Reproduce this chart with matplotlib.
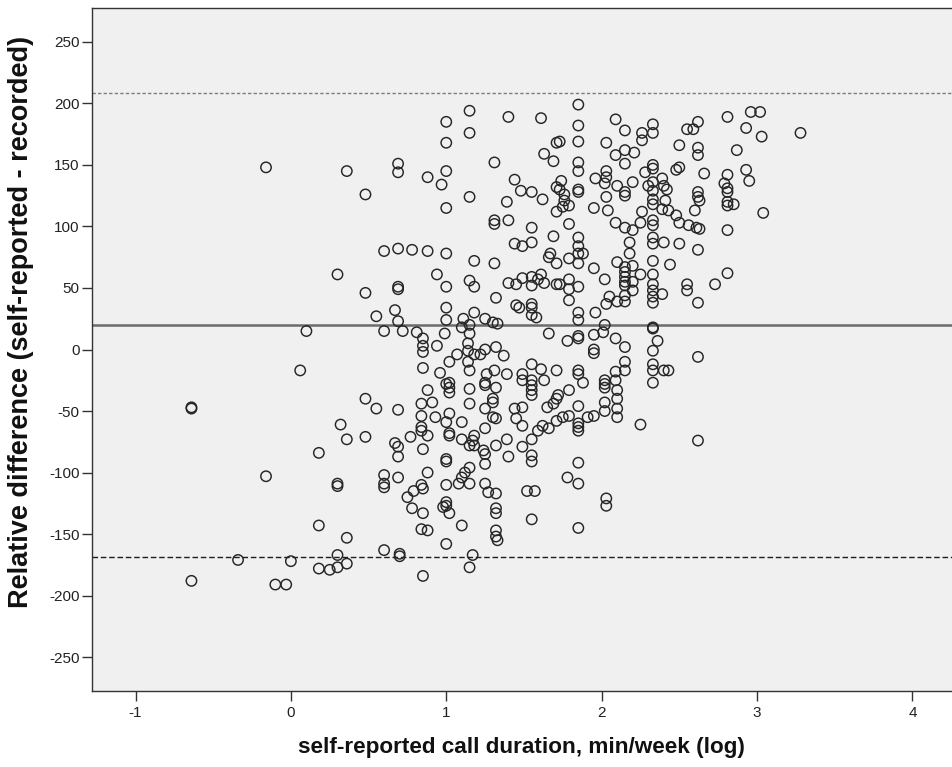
import matplotlib
matplotlib.use("Agg")
import matplotlib.pyplot as plt

plt.rcParams["font.family"] = ["Liberation Sans", "DejaVu Sans"]

# Log10 of self-reported weekly call minutes, one entry per participant
log_minutes = [
    -0.16, 0.36, 0.48, 0.69, 0.69, 0.60, 0.69, 0.30, 0.48, 0.69, 0.69, 0.55, 0.67, 0.69, 0.10, 0.60,
    0.06, 0.48, 0.55, 0.69, -0.64, -0.64, 0.32, 0.36, 0.48, 0.67, 0.69, 0.69, 0.18, -0.16, 0.30, 0.30,
    0.60, 0.60, 0.60, 0.69, 0.18, 0.36, 0.60, 0.70, 0.70,
    -0.64, -0.34, -0.10, -0.03, 0.00, 0.18, 0.25, 0.30, 0.30, 0.36, 0.85, 1.00, 1.33, 1.17, 1.15,
    1.15, 1.00, 1.15, 1.40, 1.61, 1.00, 1.71, 1.63, 1.69, 1.31,
    0.88, 1.00, 0.97, 1.44, 1.48, 1.55, 1.62, 1.71, 1.15, 1.39,
    1.00, 1.71, 1.31, 1.31, 1.40, 1.55, 1.69, 1.44, 1.49, 1.55,
    1.67, 1.66, 1.71, 0.78, 0.88, 1.00, 1.18, 1.31, 0.94, 1.15,
    1.18, 1.00, 1.40, 1.45, 1.49, 1.55, 1.55, 1.59, 1.61, 1.63,
    1.71, 1.32, 1.00, 1.45, 1.47, 1.55, 1.55, 1.55, 1.58, 1.00,
    1.11, 1.18, 1.25, 1.30, 1.33,
    0.72, 0.81, 0.85, 0.85, 0.85, 0.85, 0.94, 0.99, 1.10, 1.15,
    1.15, 1.14, 1.14, 1.18, 1.14, 1.15, 1.07, 1.02, 0.96, 1.25,
    1.32, 1.37, 1.31, 1.26, 1.25, 1.25, 1.32, 1.39, 1.55, 1.61,
    1.71, 1.49, 1.49, 1.55, 1.55, 1.55, 1.55, 1.63, 1.66, 1.02,
    1.02, 1.02, 1.00, 0.88, 0.91, 0.84, 0.84, 0.93, 0.84, 0.84,
    0.77, 0.88, 1.02, 1.00, 1.02, 1.02, 1.10, 1.10, 1.15, 1.18,
    1.18, 1.25, 1.25, 1.30, 1.30, 1.32, 1.30, 0.85, 0.88, 0.84,
    0.85, 0.79, 0.75, 0.78, 0.85, 0.84, 0.88, 1.00, 1.00, 1.00,
    1.00, 1.00, 1.02, 1.10, 1.12, 1.15, 1.15, 1.08, 1.25, 1.27,
    1.32, 1.32, 1.32, 1.25, 1.25, 1.24, 1.32, 1.40, 1.39, 1.49,
    1.55, 1.55, 1.55, 1.59, 1.62, 1.66, 1.71, 1.71, 1.65, 1.69,
    1.45, 1.49, 1.44, 1.49, 1.15, 1.15, 1.17, 1.52, 1.57, 1.55,
    1.10, 1.32, 1.32, 0.98, 1.22,
    1.85, 1.85, 1.85, 1.85, 1.85, 1.85, 1.85, 2.09, 2.15, 2.26,
    2.26, 2.33, 2.33, 2.55, 2.59, 2.62, 2.50, 2.62, 2.62, 1.73,
    2.03, 2.15, 2.21, 2.09, 2.15, 2.33, 2.33, 2.28, 2.48, 2.50,
    2.03, 2.03, 1.96, 2.02, 2.10, 2.20, 2.30, 2.33, 2.39, 2.40,
    2.42, 2.33, 2.15, 2.15, 2.03, 1.74, 1.73, 1.76, 1.76, 1.75,
    1.79, 1.95, 2.04, 2.09, 2.15, 2.20, 2.26, 2.25, 2.33, 2.33,
    2.33, 2.33, 2.41, 2.39, 2.43, 2.48, 2.50, 2.56, 2.60, 2.61,
    2.62, 2.62, 1.79, 1.85, 1.85, 1.85, 1.88, 1.79, 1.85, 1.95,
    2.10, 2.15, 2.15, 2.15, 2.15, 2.15, 2.20, 2.25, 2.33, 2.33,
    2.33, 2.33, 2.33, 2.33, 2.39, 2.44, 2.50, 2.55, 2.55, 2.62,
    2.62, 2.40, 2.33, 2.33, 2.18, 2.18, 2.02, 1.79, 1.79, 1.85,
    1.73, 1.79, 1.85, 1.85, 1.96, 2.03, 2.05, 2.10, 2.15, 2.15,
    2.20, 2.20, 2.02, 2.33,
    2.01, 1.95, 1.85, 1.85, 1.78, 2.09, 2.15, 1.95, 1.95, 2.33,
    2.36, 2.33, 2.33, 2.33, 2.33, 2.40, 2.43, 2.62, 2.15, 2.15,
    2.09, 2.09, 2.02, 2.02, 2.02, 2.10, 2.10, 2.10, 2.10, 2.02,
    2.02, 1.95, 1.91, 1.85, 1.85, 1.88, 1.79, 1.72, 1.85, 1.79,
    1.75, 1.85, 1.85, 1.85, 2.25, 2.62, 1.85, 1.78, 1.85, 2.03,
    2.03, 1.85,
    2.81, 2.96, 3.02, 2.93, 3.03, 3.28, 2.87, 2.66, 2.81, 2.93,
    2.95, 2.79, 2.81, 2.81, 2.63, 2.81, 2.81, 2.85, 3.04, 2.63,
    2.81, 2.81, 2.73,
]

# Relative difference between self-reported and recorded duration (%)
rel_diff = [
    148, 145, 126, 151, 144, 80, 82, 61, 46, 51, 49, 27, 32, 23, 15, 15,
    -17, -40, -48, -49, -48, -47, -61, -73, -71, -76, -79, -87, -84, -103, -109, -111,
    -102, -109, -112, -104, -143, -153, -163, -166, -168,
    -188, -171, -191, -191, -172, -178, -179, -167, -177, -174, -184, -158, -155, -167, -177,
    194, 185, 176, 189, 188, 168, 168, 159, 153, 152,
    140, 145, 134, 138, 129, 128, 122, 132, 124, 120,
    115, 112, 105, 102, 105, 99, 92, 86, 84, 87,
    78, 75, 70, 81, 80, 78, 72, 70, 61, 56,
    51, 51, 54, 53, 58, 59, 52, 57, 61, 54,
    53, 42, 34, 36, 34, 37, 34, 28, 26, 24,
    25, 30, 25, 22, 21,
    15, 14, 9, 3, -2, -15, 3, 13, 18, 20,
    13, 5, -1, -4, -10, -17, -4, -10, -19, 0,
    2, -5, -17, -20, -27, -29, -31, -20, -12, -16,
    -17, -20, -25, -25, -29, -33, -37, -25, 13, -27,
    -31, -35, -28, -33, -43, -44, -54, -55, -63, -66,
    -71, -70, -52, -59, -68, -70, -59, -73, -78, -70,
    -78, -64, -48, -40, -55, -56, -43, -81, -100, -110,
    -113, -115, -120, -129, -133, -146, -147, -89, -91, -110,
    -124, -127, -133, -104, -100, -96, -109, -109, -109, -116,
    -117, -129, -133, -85, -93, -82, -78, -87, -73, -79,
    -73, -86, -91, -66, -62, -64, -58, -40, -47, -44,
    -56, -62, -48, -47, -32, -44, -74, -115, -115, -138,
    -143, -147, -152, -128, -4,
    199, 182, 169, 152, 145, 130, 128, 187, 178, 176,
    170, 183, 176, 179, 179, 185, 166, 164, 158, 169,
    168, 162, 160, 158, 151, 150, 147, 144, 146, 148,
    145, 140, 139, 135, 133, 136, 133, 136, 139, 133,
    130, 129, 128, 125, 124, 137, 130, 126, 121, 116,
    117, 115, 113, 103, 99, 97, 112, 103, 122, 118,
    105, 101, 121, 114, 113, 109, 103, 101, 113, 99,
    128, 124, 102, 91, 84, 78, 78, 74, 70, 66,
    71, 67, 63, 59, 55, 52, 68, 61, 72, 61,
    53, 48, 43, 38, 45, 69, 86, 53, 48, 81,
    38, 87, 91, 86, 87, 78, 57, 57, 49, 51,
    53, 40, 30, 24, 30, 37, 43, 39, 39, 44,
    48, 55, 20, 18,
    14, 12, 11, 9, 7, 9, 2, 0, -3, 17,
    7, -1, -12, -17, -27, -17, -17, -6, -10, -17,
    -18, -25, -25, -28, -31, -33, -40, -48, -55, -43,
    -50, -54, -55, -17, -20, -27, -33, -37, -46, -54,
    -55, -60, -63, -66, -61, -74, -92, -104, -109, -121,
    -127, -145,
    189, 193, 193, 180, 173, 176, 162, 143, 142, 146,
    137, 135, 131, 128, 121, 120, 117, 118, 111, 98,
    97, 62, 53,
]

# Bland-Altman reference lines: mean difference and limits of agreement
mean_diff = 20.0
loa_upper = 208.5
loa_lower = -168.5

x_ticks = [-1, 0, 1, 2, 3, 4]
y_ticks = [-250, -200, -150, -100, -50, 0, 50, 100, 150, 200, 250]
x_limits = (-1.28, 4.255)
y_limits = (-277.5, 277.5)

W, H = 952, 767
left_px, top_px, bottom_px = 92, 8, 691
fig = plt.figure(figsize=(W / 100, H / 100), dpi=100)
fig.patch.set_facecolor("white")
ax = fig.add_axes([left_px / W, 1 - bottom_px / H, (W - left_px) / W,
                   (bottom_px - top_px) / H])
ax.set_facecolor("#f0f0f0")

ax.axhline(mean_diff, color="#6b6b6b", lw=1.8, zorder=1)
ax.axhline(loa_upper, color="#7c7c7c", lw=1.0, ls=(0, (2.4, 1.6)), zorder=1)
ax.axhline(loa_lower, color="#1e1e1e", lw=1.0, ls=(0, (4.0, 2.0)), zorder=1)

ax.scatter(log_minutes, rel_diff, s=56, facecolors="none",
           edgecolors="#262626", linewidths=1.05, zorder=2)

ax.set_xlim(*x_limits)
ax.set_ylim(*y_limits)
ax.set_xticks(x_ticks)
ax.set_yticks(y_ticks)
ax.set_xticklabels([str(t) for t in x_ticks])
ax.set_yticklabels([str(t) for t in y_ticks])

for side in ("left", "bottom", "top"):
    ax.spines[side].set_color("#333333")
    ax.spines[side].set_linewidth(1.0)
ax.spines["right"].set_visible(False)

ax.tick_params(direction="out", length=7, width=1.0, color="#333333",
               labelsize=11, labelcolor="#222222")
ax.tick_params(axis="y", pad=2)
ax.tick_params(axis="x", pad=4)

ax.set_xlabel("self-reported call duration, min/week (log)", fontsize=16.2,
              fontweight="bold", color="#111111", va="center")
ax.xaxis.set_label_coords((521 - left_px) / (W - left_px),
                          (bottom_px - 747) / (bottom_px - top_px))
ax.set_ylabel("Relative difference (self-reported - recorded)", fontsize=19.5,
              fontweight="bold", color="#111111", va="center")
ax.yaxis.set_label_coords((21 - left_px) / (W - left_px),
                          (bottom_px - 322) / (bottom_px - top_px))

fig.savefig("out.png", dpi=100, facecolor="white")
